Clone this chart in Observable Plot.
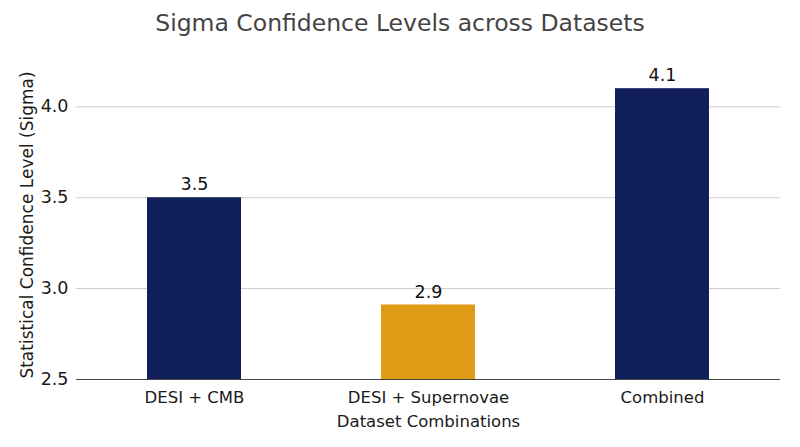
<!DOCTYPE html>
<html>
<head>
<meta charset="utf-8">
<script src="https://cdn.jsdelivr.net/npm/d3@7"></script>
<script src="https://cdn.jsdelivr.net/npm/@observablehq/plot@0.6"></script>
<style>
  html, body { margin: 0; padding: 0; background: #fff; }
  body { width: 800px; height: 447px; overflow: hidden; font-family: "DejaVu Sans", sans-serif; }
  #title { height: 44px; line-height: 44px; text-align: center; font-size: 23.5px; color: #444; padding-top: 1px; box-sizing: border-box; }
</style>
</head>
<body>
<div id="title">Sigma Confidence Levels across Datasets</div>
<div id="chart"></div>
<script>
const categories = ["DESI + CMB", "DESI + Supernovae", "Combined"];
const sigmaValues = [3.5, 2.91, 4.1];
const barColors = ["#12205a", "#e09b16", "#12205a"];
const yTicks = [2.5, 3.0, 3.5, 4.0];
const yDomain = [2.5, 4.2];

const data = categories.map((c, i) => ({category: c, value: sigmaValues[i], color: barColors[i]}));

const chart = Plot.plot({
  width: 800,
  height: 403,
  marginLeft: 76,
  marginRight: 20,
  marginTop: 26,
  marginBottom: 68,
  style: {fontFamily: "DejaVu Sans, sans-serif", fontSize: "15px", color: "#1a1a1a", background: "#fff", overflow: "visible"},
  x: {domain: categories, paddingInner: 0.6, paddingOuter: 0.3, label: null},
  y: {domain: yDomain, label: null},
  marks: [
    Plot.gridY(yTicks.slice(1), {stroke: "#cccccc", strokeOpacity: 1, strokeWidth: 1}),
    Plot.barY(data, {x: "category", y1: () => yDomain[0], y2: "value", fill: "color"}),
    Plot.ruleY([yDomain[0]], {stroke: "#444", strokeWidth: 1.2}),
    Plot.text(data, {x: "category", y: "value", text: d => d.value.toFixed(1), dy: -13, fontSize: 17.5, fill: "#111"}),
    Plot.axisY(yTicks, {tickSize: 0, tickPadding: 8, tickFormat: d => d.toFixed(1), fontSize: 17.5, fill: "#1a1a1a", label: null}),
    Plot.axisX({tickSize: 0, tickPadding: 12, fontSize: 16.5, fill: "#1a1a1a", label: null}),
    Plot.text(["Dataset Combinations"], {frameAnchor: "bottom", dy: 42, textAnchor: "middle", lineAnchor: "middle", fontSize: 16.5, fill: "#1a1a1a"}),
    Plot.text(["Statistical Confidence Level (Sigma)"], {frameAnchor: "left", dx: -49, textAnchor: "middle", lineAnchor: "middle", rotate: -90, fontSize: 17, fill: "#1a1a1a"})
  ]
});
document.getElementById("chart").appendChild(chart);
</script>
</body>
</html>
